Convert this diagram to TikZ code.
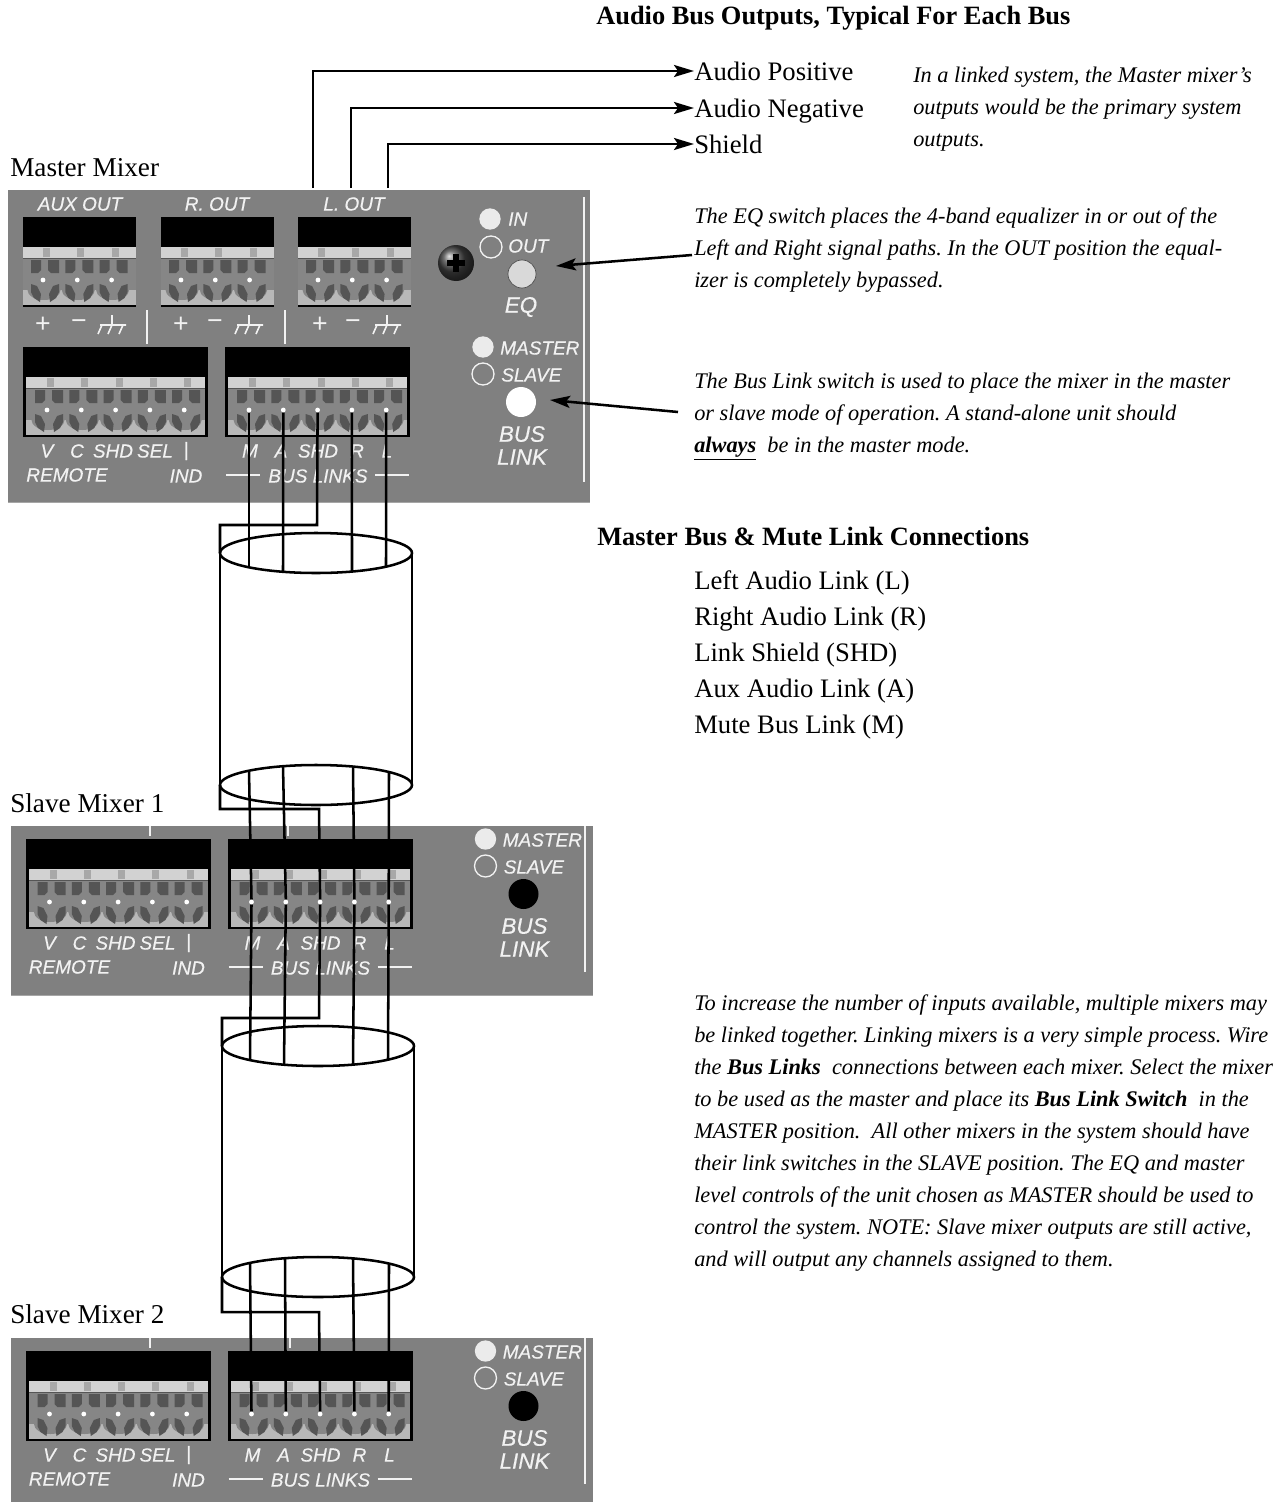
\documentclass[tikz,border=0pt]{standalone}
\usepackage{fontspec}
\setmainfont{Liberation Serif}
\setsansfont{Liberation Sans}
\newfontfamily\panelfont{Liberation Sans}[ItalicFeatures={FakeBold=0.4}]
\usetikzlibrary{arrows.meta}
\definecolor{panelc}{HTML}{808080}
\definecolor{inkc}{HTML}{F2F2F2}
\definecolor{darkc}{HTML}{555555}
\definecolor{stripc}{HTML}{D2D2D2}
\definecolor{tickc}{HTML}{A8A8A8}
\definecolor{bandc}{HTML}{B8B8B8}
\definecolor{bodyc}{HTML}{868686}
\tikzset{
  wire/.style={line width=1.9pt,black},
  tipwire/.style={wire,-{Stealth[length=15pt,width=9pt,inset=3pt]}},
  lbl/.style={font=\panelfont\itshape\fontsize{14.25}{16}\selectfont,text=inkc,inner sep=0pt},
  biglbl/.style={lbl,font=\panelfont\itshape\fontsize{16.8}{18}\selectfont},
  pm/.style={font=\sffamily\fontsize{20}{20}\selectfont,text=inkc,inner sep=0pt},
  white line/.style={line width=1.5pt,inkc},
  pinn/.style={circle,fill=white,inner sep=0pt,minimum size=3.6pt},
  ledon/.style={circle,fill=white!92!black,inner sep=0pt,minimum size=16pt},
  ledoff/.style={circle,draw=inkc,line width=1pt,inner sep=0pt,minimum size=16.5pt},
  serifl/.style={font=\fontsize{20}{24}\selectfont,inner sep=0pt,anchor=west,text height=14.2pt,text depth=0pt},
  mixl/.style={serifl,font=\fontsize{20.4}{24}\selectfont},
  head/.style={font=\bfseries\fontsize{19.8}{24}\selectfont,inner sep=0pt,anchor=west,text height=13pt,text depth=3pt},
  note/.style={font=\frenchspacing\itshape\fontsize{16.75}{24}\selectfont,inner sep=0pt,anchor=north west,align=left},
}
% terminal block: #1 prefix, #2 x, #3 y, #4 poles, #5 first pin offset, #6 side inset
\newcommand{\tblock}[6]{%
  \begin{scope}[shift={(#2,#3)}]
    \pgfmathsetmacro\bw{#5+(#4-1)*34.3+24}
    \fill[black] (0,0) rectangle (\bw,89.5);
    \fill[stripc] (#6,30) rectangle (\bw-#6,41);
    \fill[bodyc] (#6,41) rectangle (\bw-#6,88);
    \fill[bandc] (#6,73) rectangle (\bw-#6,88);
    \draw[darkc,line width=.8pt] (#6,41.5) -- (\bw-#6,41.5);
    \foreach \i in {1,...,#4}{
      \pgfmathsetmacro\cx{#5+(\i-1)*34.3}
      \fill[tickc] (\cx+0,31) rectangle (\cx+7,40);
      \fill[bodyc] (\cx+1,73) ellipse [x radius=16.5,y radius=10];
      \fill[darkc] (\cx-12,43) -- (\cx-2,43) -- (\cx-2,53) -- (\cx-5,56) -- (\cx-12,56) -- cycle;
      \fill[darkc] (\cx+5,43) -- (\cx+16,43) -- (\cx+16,56) -- (\cx+8,56) -- (\cx+5,53) -- cycle;
      \fill[darkc] (\cx-12,67) -- (\cx-6,69) -- (\cx-2,77) -- (\cx-3,85) -- (\cx-9,81) -- (\cx-12,75) -- cycle;
      \fill[darkc] (\cx+16,67) -- (\cx+10,69) -- (\cx+6,77) -- (\cx+7,85) -- (\cx+13,81) -- (\cx+16,75) -- cycle;
      \node[pinn] (#1-\i) at (\cx,63) {};
    }
  \end{scope}}
% lower part of a panel: #1 prefix, #2 dx, #3 dy, #4 button colour
\newcommand{\lowerpart}[4]{%
  \begin{scope}[shift={(#2,#3)}]
    \tblock{#1r}{23}{347}{5}{24}{3}
    \tblock{#1}{225}{347}{5}{24}{3}
    \node[lbl] (#1-lv) at (47,451) {V};
    \node[lbl] (#1-lc) at (77,451) {C};
    \node[lbl] (#1-ls) at (113,451) {SHD};
    \node[lbl] (#1-lsel) at (155,451) {SEL};
    \node[lbl] (#1-lbar) at (186,451) {|};
    \node[lbl] (#1-lrem) at (67,475) {REMOTE};
    \node[lbl] (#1-lind) at (186,476) {IND};
    \node[lbl] (#1-lm) at (250,451) {M};
    \node[lbl] (#1-la) at (281,451) {A};
    \node[lbl] (#1-lsh) at (318,451) {SHD};
    \node[lbl] (#1-lr) at (357,451) {R};
    \node[lbl] (#1-ll) at (387,451) {L};
    \node[lbl] (#1-lb) at (318,476) {BUS LINKS};
    \draw[white line] (226,475) -- (260,475);
    \draw[white line] (375,475) -- (409,475);
    \node[ledon] (#1-led) at (483,347) {};
    \node[ledoff] (#1-ledo) at (483,374) {};
    \node[lbl,anchor=west] (#1-lma) at (500,348) {MASTER};
    \node[lbl,anchor=west] (#1-lsl) at (501,375) {SLAVE};
    \node[circle,fill=#4,inner sep=0pt,minimum size=22.5pt] (#1-btn) at (521,402) {};
    \node[biglbl] (#1-lbu) at (522,434) {BUS};
    \node[biglbl] (#1-lli) at (522,457) {LINK};
  \end{scope}}
\newcommand{\gnd}[1]{%
  \begin{scope}[shift={(#1,0)}]
    \draw[white line,line width=1.2pt] (-12,325) -- (14,325) (0,315) -- (0,325) (-10,325) -- (-14,334) (0,325) -- (-4,334) (11,325) -- (7,334);
  \end{scope}}
\begin{document}
\begin{tikzpicture}[x=.75pt,y=-.75pt]
\useasboundingbox (0,0) rectangle (1276,1502);
% ---------- panels
\fill[panelc] (8,190) rectangle (590,503);
\fill[panelc!70!white] (8,501.5) rectangle (590,503);
\fill[panelc] (11,826) rectangle (593,996);
\fill[panelc!70!white] (11,994.5) rectangle (593,996);
\fill[panelc] (11,1338) rectangle (593,1502);
\lowerpart{mb}{0}{0}{white}
\lowerpart{sa}{2.5}{492}{black}
\lowerpart{sb}{2.5}{1004}{black}
% top row of master
\tblock{ax}{23}{217}{3}{20}{0}
\tblock{ro}{161}{217}{3}{20}{0}
\tblock{lo}{298}{217}{3}{20}{0}
\node[lbl] (laux) at (80,204) {AUX OUT};
\node[lbl] (lrout) at (217,204) {R. OUT};
\node[lbl] (llout) at (354,204) {L. OUT};
\node[pm] (p1) at (43,325) {+};
\node[pm] (m1) at (79,325) {−};
\gnd{112}
\node[pm] (p2) at (181,325) {+};
\node[pm] (m2) at (215,325) {−};
\gnd{249}
\node[pm] (p3) at (320,325) {+};
\node[pm] (m3) at (353,325) {−};
\gnd{387}
\draw[white line] (147,310) -- (147,344);
\draw[white line] (285,310) -- (285,344);
\draw[white line] (584,197) -- (584,482);
\draw[white line] (585,826) -- (585,972);
\draw[white line] (585,1338) -- (585,1484);
\draw[white line] (150,826) -- (150,836);
\draw[white line] (288,826) -- (288,836);
\draw[white line] (150,1338) -- (150,1348);
\draw[white line] (290,1338) -- (290,1348);
% EQ section
\shade[ball color=black!75] (456,263) circle [radius=18];
\draw[black,line width=4.5pt] (447,263) -- (465,263) (456,254) -- (456,272);
\node[ledon] (ledin) at (490,219) {};
\node[ledoff] (ledout) at (491,247) {};
\node[lbl,anchor=west] (lin) at (508,219) {IN};
\node[lbl,anchor=west] (lout) at (508,246) {OUT};
\node[circle,fill=white!85!black,draw=panelc!60!black,line width=.5pt,inner sep=0pt,minimum size=21pt] (eqbtn) at (522,274) {};
\node[biglbl] (leq) at (521,307) {EQ};
% ---------- text
\node[head] (h1) at (596,18) {Audio Bus Outputs, Typical For Each Bus};
\node[serifl] (apos) at (694,71) {Audio Positive};
\node[serifl] (aneg) at (694,108) {Audio Negative};
\node[serifl] (shld) at (694,144) {Shield};
\node[mixl] (mm) at (10,167) {Master Mixer};
\node[mixl] (s1) at (10,803) {Slave Mixer 1};
\node[mixl] (s2) at (10,1314) {Slave Mixer 2};
\node[note] (n1) at (913,67) {In a linked system, the Master mixer's\\outputs would be the primary system\\outputs.};
\node[note] (n2) at (694,208) {The EQ switch places the 4-band equalizer in or out of the\\Left and Right signal paths. In the OUT position the equal-\\izer is completely bypassed.};
\node[note] (n3) at (694,373) {The Bus Link switch is used to place the mixer in the master\\or slave mode of operation. A stand-alone unit should\\\textbf{\underline{always}}\ \ be in the master mode.};
\node[head] (h2) at (597,539) {Master Bus \& Mute Link Connections};
\node[serifl] (l1) at (694,580) {Left Audio Link (L)};
\node[serifl] (l2) at (694,616) {Right Audio Link (R)};
\node[serifl] (l3) at (694,652) {Link Shield (SHD)};
\node[serifl] (l4) at (694,688) {Aux Audio Link (A)};
\node[serifl] (l5) at (694,724) {Mute Bus Link (M)};
\node[note] (n4) at (694,994) {To increase the number of inputs available, multiple mixers may\\be linked together. Linking mixers is a very simple process. Wire\\the \textbf{Bus Links}\ \ connections between each mixer. Select the mixer\\to be used as the master and place its \textbf{Bus Link Switch}\ \ in the\\MASTER position.\ \ All other mixers in the system should have\\their link switches in the SLAVE position. The EQ and master\\level controls of the unit chosen as MASTER should be used to\\control the system. NOTE: Slave mixer outputs are still active,\\and will output any channels assigned to them.};
% ---------- top outputs
\coordinate (o1) at (313,188);
\coordinate (o2) at (351,188);
\coordinate (o3) at (388,188);
\draw[tipwire] (o1) |- (apos.west);
\draw[tipwire] (o2) |- (aneg.west);
\draw[tipwire] (o3) |- (shld.west);
\coordinate (eqfrom) at (692,255);
\coordinate (eqto) at (556,266);
\coordinate (bufrom) at (678,412);
\coordinate (buto) at (550,400);
\draw[tipwire] (eqfrom) -- (eqto);
\draw[tipwire] (bufrom) -- (buto);
% ---------- cylinders
\coordinate (c1t) at (316,553);
\coordinate (c1b) at (316,785);
\coordinate (c1tl) at (220,553);
\coordinate (c1tr) at (412,553);
\coordinate (c1bl) at (220,785);
\coordinate (c1br) at (412,785);
\coordinate (c2t) at (318,1046);
\coordinate (c2b) at (318,1277);
\coordinate (c2tl) at (222,1046);
\coordinate (c2tr) at (414,1046);
\coordinate (c2bl) at (222,1277);
\coordinate (c2br) at (414,1277);
\draw[wire] (c1t) ellipse [x radius=96,y radius=20];
\draw[wire] (c1b) ellipse [x radius=96,y radius=20];
\draw[wire] (c1tl) -- (c1bl) (c1tr) -- (c1br);
\draw[wire] (c2t) ellipse [x radius=96,y radius=20];
\draw[wire] (c2b) ellipse [x radius=96,y radius=20];
\draw[wire] (c2tl) -- (c2bl) (c2tr) -- (c2br);
% ---------- wires: master to cylinder 1
\coordinate (a1) at (249,568); \coordinate (a2) at (283,572);
\coordinate (a4) at (352,572); \coordinate (a5) at (386,566);
\draw[wire] (mb-1.south) -- (a1);
\draw[wire] (mb-2.south) -- (a2);
\draw[wire] (mb-4.south) -- (a4);
\draw[wire] (mb-5.south) -- (a5);
\coordinate (a3) at (317,525);
\draw[wire] (mb-3.south) -- (a3) -| (c1tl);
% cylinder 1 to slave 1
\coordinate (b1) at (249,771); \coordinate (b2) at (283,766);
\coordinate (b4) at (353,766); \coordinate (b5) at (389,771);
\coordinate (b3) at (319,809);
\draw[wire] (b1) -- (sa-1.north);
\draw[wire] (b2) -- (sa-2.north);
\draw[wire] (b4) -- (sa-4.north);
\draw[wire] (b5) -- (sa-5.north);
\draw[wire] (c1bl) |- (b3) -- (sa-3.north);
% slave 1 to cylinder 2
\coordinate (d1) at (250,1060); \coordinate (d2) at (284,1065);
\coordinate (d4) at (353,1065); \coordinate (d5) at (388,1060);
\coordinate (d3) at (319,1018);
\draw[wire] (sa-1.south) -- (d1);
\draw[wire] (sa-2.south) -- (d2);
\draw[wire] (sa-4.south) -- (d4);
\draw[wire] (sa-5.south) -- (d5);
\draw[wire] (sa-3.south) -- (d3) -| (c2tl);
% cylinder 2 to slave 2
\coordinate (e1) at (250,1263); \coordinate (e2) at (285,1258);
\coordinate (e4) at (353,1258); \coordinate (e5) at (389,1263);
\coordinate (e3) at (319,1312);
\draw[wire] (e1) -- (sb-1.north);
\draw[wire] (e2) -- (sb-2.north);
\draw[wire] (e4) -- (sb-4.north);
\draw[wire] (e5) -- (sb-5.north);
\draw[wire] (c2bl) |- (e3) -- (sb-3.north);
\end{tikzpicture}
\end{document}
